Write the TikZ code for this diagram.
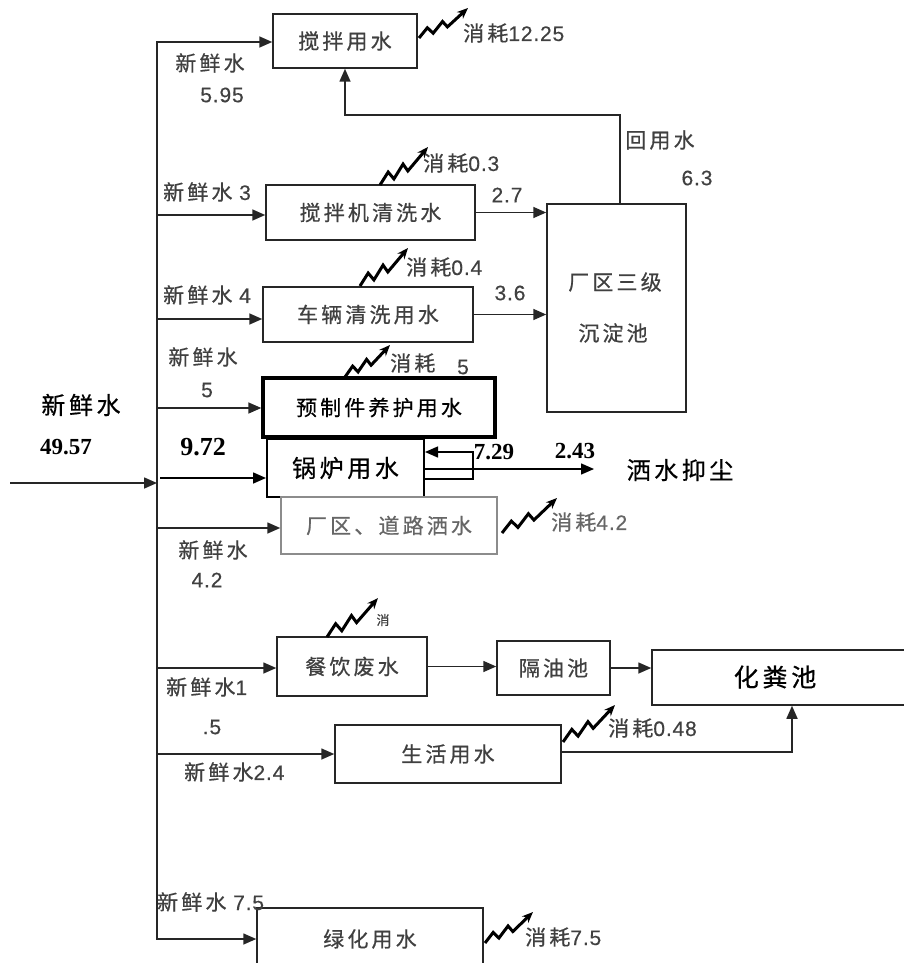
\documentclass[tikz,border=0pt]{standalone}
\usepackage{fontspec}
\setmainfont{Noto Sans CJK SC}
\newfontfamily\cjk[LetterSpace=15,FakeBold=0.6]{Noto Sans CJK SC}
\newfontfamily\arl[LetterSpace=4,FakeBold=0.4]{Liberation Sans}
\newfontfamily\tnr{Liberation Serif}
\usetikzlibrary{arrows.meta}
\definecolor{ink}{HTML}{404040}
\newcommand{\numt}[1]{{\arl\fontsize{21}{24}\selectfont #1}}
\newcommand{\zig}[3]{\draw[zz] (#1) -- ++({0.17*#2},{-0.34*#3}) -- ++({0.12*#2},{0.18*#3}) -- ++({0.19*#2},{-0.39*#3}) -- ++({0.10*#2},{0.18*#3}) -- ++({0.42*#2},{-0.63*#3});}
\tikzset{
  box/.style={draw=black!85, line width=1.5pt, inner sep=0pt, text=ink,
    font=\cjk\fontsize{21}{24}\selectfont},
  lab/.style={font=\cjk\fontsize{21}{24}\selectfont, text=ink, inner sep=0pt},
  big/.style={font=\cjk\fontsize{24}{28}\selectfont, text=black, inner sep=0pt},
  bnum/.style={font=\tnr\bfseries\fontsize{23}{26}\selectfont, text=black, inner sep=0pt},
  arr/.style={line width=1.6pt, draw=black!85, -{Triangle[length=13pt,width=11pt]}},
  ln/.style={line width=1.6pt, draw=black!85},
  zz/.style={line width=3pt, draw=black, -{Stealth[length=11pt,width=9pt]}, line join=miter},
}
\begin{document}
\begin{tikzpicture}[x=1pt,y=-1pt]
\useasboundingbox[fill=white] (0,0) rectangle (904,963);

% boxes
\node[box, minimum width=144pt, minimum height=54pt] (b1) at (345,41) {搅拌用水};
\node[box, minimum width=209pt, minimum height=55pt] (b2) at (370.5,212.5) {搅拌机清洗水};
\node[box, minimum width=139pt, minimum height=208pt] (pond) at (616.5,308) {};
\node[lab] (pt1) at (615,282) {厂区三级};
\node[lab] (pt2) at (613,333) {沉淀池};
\node[box, minimum width=210pt, minimum height=55pt] (b3) at (368,314.5) {车辆清洗用水};
\node[box, line width=3.4pt, draw=black, text=black, minimum width=232pt, minimum height=59pt] (b4) at (379,407.5) {预制件养护用水};
\node[box, line width=2pt, draw=black, text=black, font=\cjk\fontsize{24}{28}\selectfont, minimum width=157pt, minimum height=58pt] (b5) at (345.5,468) {锅炉用水};
\node[box, draw=black!45, text=black!60, minimum width=216pt, minimum height=57pt] (b6) at (389,525.5) {厂区、道路洒水};
\node[box, minimum width=150pt, minimum height=59pt] (b7) at (352,666.5) {餐饮废水};
\node[box, minimum width=113pt, minimum height=54pt] (b8) at (553.5,668) {隔油池};
\node[box, minimum width=268pt, minimum height=55pt] (b9) at (786,677.5) {};
\node[big, font=\cjk\fontsize{25}{28}\selectfont] (b9t) at (775,677) {化粪池};
\node[box, minimum width=226pt, minimum height=58pt] (b10) at (448,754) {生活用水};
\node[box, minimum width=226pt, minimum height=62pt] (b11) at (370,939) {绿化用水};

% trunk
\coordinate (ttop) at (157,42);
\coordinate (tbot) at (157,939);
\draw[ln, line cap=rect] (ttop) -- (tbot);
\coordinate (inL) at (10,483);
\coordinate (inR) at (157,483);
\draw[arr] (inL) -- (inR);
\coordinate (t2) at (157,215);
\coordinate (t3) at (157,319);
\coordinate (t4) at (157,408);
\coordinate (t5) at (160,478);
\coordinate (t6) at (157,528);
\coordinate (t7) at (157,668);
\coordinate (t10) at (157,754);
\draw[arr] (ttop) -- (ttop -| b1.west);
\draw[arr] (t2) -- (t2 -| b2.west);
\draw[arr] (t3) -- (t3 -| b3.west);
\draw[arr] (t4) -- (t4 -| b4.west);
\draw[arr, draw=black] (t5) -- (t5 -| b5.west);
\draw[arr] (t6) -- (t6 -| b6.west);
\draw[arr] (t7) -- (t7 -| b7.west);
\draw[arr] (t10) -- (t10 -| b10.west);
\draw[arr] (tbot) -- (tbot -| b11.west);

% flows to pond and recycle
\draw[arr] (b2.east) -- (b2.east -| pond.west);
\draw[arr] (b3.east) -- (b3.east -| pond.west);
\coordinate (rc) at (620,115);
\draw[arr] (rc |- pond.north) -- (rc) -| (b1.south);

% kitchen / domestic
\draw[arr] (b7.east) -- (b7.east -| b8.west);
\draw[arr] (b8.east) -- (b8.east -| b9.west);
\coordinate (sj) at (792,752);
\draw[arr] (sj -| b10.east) -- (sj) -- (sj |- b9.south);

% boiler loop
\coordinate (lpA) at (473,479);
\coordinate (lpB) at (473,452);
\draw[arr, draw=black, line width=1.4pt] (lpA -| b5.east) -- (lpA) -- (lpB) -- (lpB -| b5.east);
\coordinate (dust) at (594,469);
\draw[arr, draw=black, line width=1.4pt] (dust -| b5.east) -- (dust);

% zigzags (consumption)
\coordinate (z1) at (419,38);
\coordinate (z2) at (380,185);
\coordinate (z3) at (360,286);
\coordinate (z4) at (345,377);
\coordinate (z6) at (502,533);
\coordinate (z7) at (327,637);
\coordinate (z10) at (563,742);
\coordinate (z11) at (485,943);
\zig{z1}{49}{30}
\zig{z2}{48}{38}
\zig{z3}{48}{38}
\zig{z4}{45}{32}
\zig{z6}{55}{35}
\zig{z7}{51}{39}
\zig{z10}{52}{37}
\zig{z11}{48}{31}

% labels
\node[lab] (l1a) at (210,63) {新鲜水};
\node[lab] (l1b) at (222,95) {\numt{5.95}};
\node[lab, anchor=west] (c1) at (463,33) {消耗\numt{12.25}};
\node[lab] (rw) at (660,140) {回用水};
\node[lab] (rwn) at (697,178) {\numt{6.3}};
\node[lab, anchor=west] (c2) at (423,163) {消耗\numt{0.3}};
\node[lab, anchor=west] (l2) at (163,192) {新鲜水\numt{ 3}};
\node[lab] (n27) at (507,195) {\numt{2.7}};
\node[lab, anchor=west] (c3) at (406,267) {消耗\numt{0.4}};
\node[lab, anchor=west] (l3) at (163,295) {新鲜水\numt{ 4}};
\node[lab] (n36) at (510,293) {\numt{3.6}};
\node[lab] (l4a) at (203,357) {新鲜水};
\node[lab] (l4b) at (207,390) {\numt{5}};
\node[lab, anchor=west] (c4) at (390,363) {消耗};
\node[lab] (c4n) at (463,367) {\numt{5}};
\node[big] (inw) at (81,405) {新鲜水};
\node[bnum] (inn) at (66,447) {49.57};
\node[bnum, font=\tnr\bfseries\fontsize{26}{28}\selectfont] (n972) at (203,447) {9.72};
\node[bnum] (n729) at (494,452) {7.29};
\node[bnum] (n243) at (575,451) {2.43};
\node[big] (dustt) at (680,470) {洒水抑尘};
\node[lab, anchor=west, text=black!60] (c6) at (551,522) {消耗\numt{4.2}};
\node[lab] (l6a) at (213,550) {新鲜水};
\node[lab] (l6b) at (207,580) {\numt{4.2}};
\node[lab, font=\cjk\fontsize{13}{14}\selectfont] (c7) at (383,620) {消};
\node[lab, anchor=west] (l7a) at (166,687) {新鲜水\numt{1}};
\node[lab] (l7b) at (212,727) {\numt{.5}};
\node[lab, anchor=west] (c10) at (608,728) {消耗\numt{0.48}};
\node[lab, anchor=west] (l10) at (184,772) {新鲜水\numt{2.4}};
\node[lab, anchor=west] (l11) at (157,902) {新鲜水\numt{ 7.5}};
\node[lab, anchor=west] (c11) at (525,937) {消耗\numt{7.5}};
\end{tikzpicture}
\end{document}
